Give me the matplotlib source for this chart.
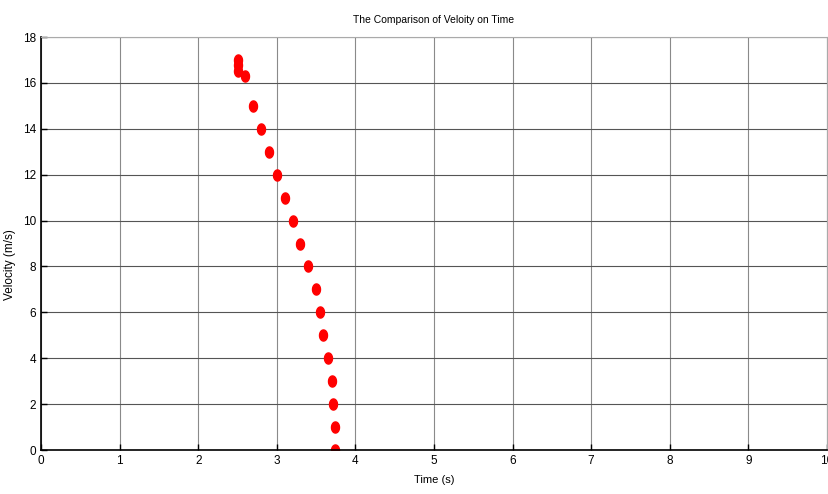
import matplotlib
matplotlib.use('Agg')
import matplotlib.pyplot as plt
import numpy as np
from matplotlib.path import Path

# data
time = [2.50, 2.50, 2.50, 2.60, 2.70, 2.80, 2.90, 3.00, 3.10, 3.20,
        3.30, 3.40, 3.50, 3.55, 3.59, 3.65, 3.70, 3.72, 3.74, 3.74]
velocity = [17.0, 16.8, 16.5, 16.3, 15.0, 14.0, 13.0, 12.0, 11.0, 10.0,
            9.0, 8.0, 7.0, 6.0, 5.0, 4.0, 3.0, 2.0, 1.0, 0.0]
xticks = np.arange(0, 11, 1)
yticks = np.arange(0, 19, 2)

plt.rcParams['font.family'] = ['Liberation Sans', 'DejaVu Sans']

# stretched dot, as in the original
t = np.linspace(0, 2*np.pi, 40)
ellipse = Path(np.column_stack([0.72*np.cos(t), np.sin(t)]), closed=True)

fig = plt.figure(figsize=(8.29, 4.94), dpi=100)
ax = fig.add_axes([0.0495, 0.089, 0.948, 0.836])
ax.plot(time, velocity, linestyle='none', marker=ellipse, markersize=8,
        color='red', markeredgecolor='red')

ax.set_xlim(0, 10)
ax.set_ylim(0, 18)
ax.set_xticks(xticks)
ax.set_yticks(yticks)
ax.xaxis.grid(True, color='#8a8a8a', linewidth=0.8, linestyle='-')
ax.yaxis.grid(True, color='#555555', linewidth=0.8, linestyle='-')
ax.set_axisbelow(True)
ax.tick_params(direction='in', length=4, labelsize=8.5, width=1)
ax.tick_params(top=False, right=False)
for s in ['top', 'right']:
    ax.spines[s].set_color('#aaaaaa')
    ax.spines[s].set_linewidth(0.8)
for s in ['left', 'bottom']:
    ax.spines[s].set_linewidth(1.2)

ax.set_title('The Comparison of Veloity on Time', fontsize=7.5, pad=10)
ax.set_xlabel('Time (s)', fontsize=8, labelpad=6)
ax.set_ylabel('Velocity (m/s)', fontsize=8.5, labelpad=1)
ax.yaxis.set_label_coords(-0.032, 0.45)

fig.savefig('out.png', dpi=100)
